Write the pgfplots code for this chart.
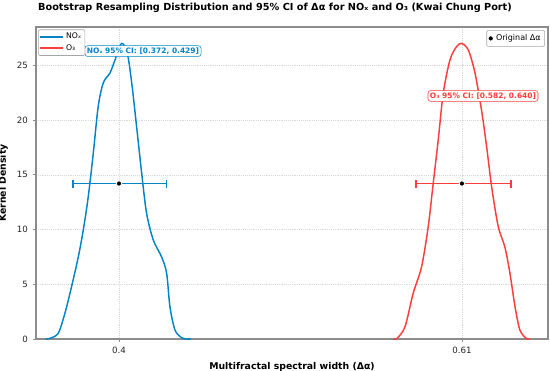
\documentclass[border=0pt]{standalone}
\usepackage{fontspec}
\setmainfont{DejaVu Sans}
\usepackage{pgfplots}
\pgfplotsset{compat=1.18}
\definecolor{myblue}{HTML}{0084C8}
\definecolor{myred}{HTML}{FF3C3C}
\definecolor{framec}{RGB}{140,140,140}
\begin{document}
\begin{tikzpicture}
\pgfplotsset{
  base/.style={
    scale only axis, width=384pt, height=234pt,
    xmin=0.3492, xmax=0.6627, ymin=0, ymax=28.5,
  }
}
\begin{axis}[base, name=main,
  /pgf/number format/assume math mode=true,
  xtick={0.4,0.61}, xticklabels={0.4,0.61},
  ytick={0,5,10,15,20,25},
  tick label style={font=\fontsize{6.5}{7}\selectfont, text=black!85},
  axis line style={framec, line width=0.9pt},
  tick style={framec, line width=0.6pt},
  tick align=outside, major tick length=2.5pt,
  xtick pos=bottom, ytick pos=left,
  grid=major, grid style={densely dotted, black!15, line width=0.4pt},
  title={\bfseries Bootstrap Resampling Distribution and 95\% CI of Δα for NOₓ and O₃ (Kwai Chung Port)},
  title style={font=\fontsize{7.3}{9}\selectfont, xshift=-12.75pt, yshift=1pt},
  xlabel={\bfseries Multifractal spectral width (Δα)},
  ylabel={\bfseries Kernel Density},
  label style={font=\fontsize{7}{8}\selectfont},
  legend style={at={(0.004,0.992)}, anchor=north west, font=\fontsize{5.8}{6.5}\selectfont,
    draw=black!35, fill=white, rounded corners=1pt,
    inner sep=0.6pt, row sep=-1.5pt},
  legend cell align=left,
  legend image post style={line width=1.1pt},
]
\addplot[draw=myblue, line width=1.1pt, smooth, tension=0.5] coordinates {
(0.3550,0) (0.3577,0.06) (0.3628,0.52) (0.3669,2.35) (0.3710,4.8) (0.3751,7.5) (0.3782,10.0)
(0.3812,13.0) (0.3843,17.0) (0.3873,21.25) (0.3904,23.4) (0.3945,24.3) (0.3976,25.5)
(0.4016,27.0) (0.4051,26.1) (0.4078,23.4) (0.4108,19.4) (0.4139,15.15) (0.4169,11.5)
(0.4210,9.05) (0.4261,7.5) (0.4292,6.0) (0.4312,2.96) (0.4343,0.82) (0.4384,0.12) (0.4414,0) (0.4440,0)
};
\addlegendentry{NOₓ}
\addplot[draw=myred, line width=1.1pt, smooth, tension=0.5] coordinates {
(0.5680,0) (0.5700,0.02) (0.5751,1.1) (0.5802,4.2) (0.5853,6.6) (0.5894,10.3) (0.5924,14.2)
(0.5955,18.2) (0.5986,22.5) (0.6027,25.5) (0.6067,26.7) (0.6098,27.0)
(0.6139,26.4) (0.6180,24.3) (0.6220,20.9) (0.6251,17.6) (0.6282,13.9) (0.6322,10.3)
(0.6363,8.4) (0.6394,6.0) (0.6425,2.96) (0.6455,0.82) (0.6496,0.02) (0.6516,0)
};
\addlegendentry{O₃}
\node[draw=myblue, fill=white, rounded corners=2pt, text=myblue, inner sep=1.5pt, anchor=west,
  font=\fontsize{5.6}{6}\selectfont\bfseries] at (axis cs:0.3790,26.3) {NOₓ 95\% CI: [0.372, 0.429]};
\node[draw=myred, fill=white, rounded corners=2pt, text=myred, inner sep=1.5pt,
  font=\fontsize{5.6}{6}\selectfont\bfseries] at (axis cs:0.6229,22.2) {O₃ 95\% CI: [0.582, 0.640]};
\end{axis}
\begin{axis}[base, hide axis,
  legend style={at={(0.994,0.99)}, anchor=north east, font=\fontsize{6}{7}\selectfont,
    draw=black!35, fill=white, rounded corners=1pt,
    inner sep=1pt},
]
\addplot[color=myblue, line width=1.2pt, mark=|, mark size=3pt, mark options={solid, color=myblue, line width=1.2pt}, forget plot]
  coordinates {(0.372,14.2) (0.429,14.2)};
\addplot[color=myred, line width=1.2pt, mark=|, mark size=3pt, mark options={solid, color=myred, line width=1.2pt}, forget plot]
  coordinates {(0.582,14.2) (0.640,14.2)};
\addplot[only marks, mark=*, mark size=2pt, mark options={fill=black, draw=white, line width=0.6pt}]
  coordinates {(0.4,14.2) (0.61,14.2)};
\addlegendentry{Original Δα}
\end{axis}
\pgfresetboundingbox
\path (main.south west) ++(-27pt,-24pt) rectangle ([shift={(1.5pt,20.25pt)}]main.north east);
\end{tikzpicture}
\end{document}
